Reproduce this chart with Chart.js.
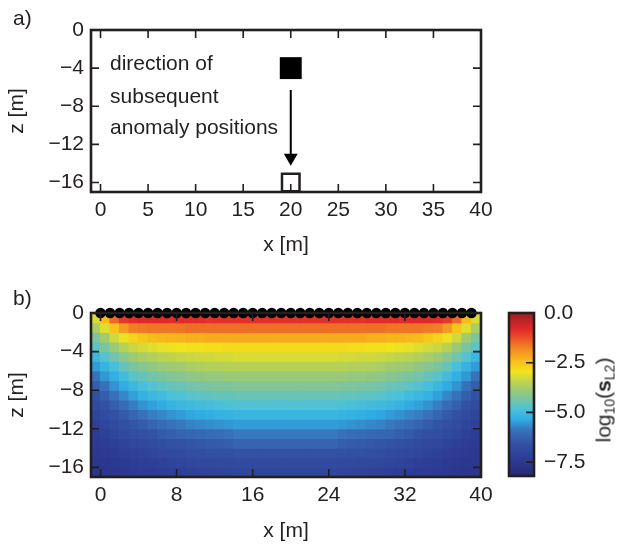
<!DOCTYPE html>
<html><head><meta charset="utf-8">
<script src="https://cdn.jsdelivr.net/npm/chart.js@4.4.1/dist/chart.umd.min.js"></script>
<style>
html,body{margin:0;padding:0;background:#fff;}
body{width:621px;height:546px;position:relative;overflow:hidden;font-family:'Liberation Sans',Arial,sans-serif;color:#231f20;}
canvas{position:absolute;}
.lbl{position:absolute;font-size:21px;line-height:1;}
#cbl{position:absolute;left:603px;top:400px;transform:translate(-50%,-50%) rotate(-90deg);white-space:nowrap;font-size:21px;line-height:1;font-weight:normal;color:#231f20;}
#cbl sub{font-size:14px;line-height:0;vertical-align:-4px;font-weight:normal;}
#cbl b{font-weight:bold;}
</style></head><body>
<canvas id="ca" width="621" height="270" style="left:0;top:0"></canvas>
<canvas id="cb" width="500" height="276" style="left:0;top:270px"></canvas>
<canvas id="cc" width="121" height="276" style="left:500px;top:270px"></canvas>
<div class="lbl" style="left:13px;top:7px">a)</div>
<div class="lbl" style="left:13px;top:287px">b)</div>
<div id="cbl">log<sub>10</sub>(<b>s</b><sub>L2</sub>)</div>
<script>
// ---------- data ----------
const xTicksA = [0, 5, 10, 15, 20, 25, 30, 35, 40];
const xTicksB = [0, 8, 16, 24, 32, 40];
const zTicks = [0, -4, -8, -12, -16];
const cbarTicks = [0, -2.5, -5, -7.5];
const cbarRange = [-8.2, 0];

const anomalyX = [20, 20];
const anomalyZ = [-4, -16];
const arrowX = [20, 20];
const arrowZ = [-6.3, -13.4];
const noteLines = ['direction of', 'subsequent', 'anomaly positions'];
const noteX = 1;
const noteZ = [-3.6, -7.0, -10.3];

const electrodeX = [0,1,2,3,4,5,6,7,8,9,10,11,12,13,14,15,16,17,18,19,20,21,22,23,24,25,26,27,28,29,30,31,32,33,34,35,36,37,38,39];

// heatmap cells: column centres (x, m) and row edges (z, m)
const cellX = [-0.5,0.5,1.5,2.5,3.5,4.5,5.5,6.5,7.5,8.5,9.5,10.5,11.5,12.5,13.5,14.5,15.5,16.5,17.5,18.5,19.5,20.5,21.5,22.5,23.5,24.5,25.5,26.5,27.5,28.5,29.5,30.5,31.5,32.5,33.5,34.5,35.5,36.5,37.5,38.5,39.5];
const cellZEdges = [0,-1,-2,-3,-4,-5,-6,-7,-8,-9,-10,-11,-12,-13,-14,-15,-16,-17];

// log10(s_L2) per row (top to bottom), per column (left to right)
const logS_r00 = [-3.2,-2.4,-1.5,-1.0,-0.85,-0.8,-0.8,-0.8,-0.85,-0.85, -0.85,-0.85,-0.9,-0.9,-0.9,-0.9,-0.9,-0.9,-0.9,-0.9, -0.9, -0.9,-0.9,-0.9,-0.9,-0.9,-0.9,-0.9,-0.9,-0.85,-0.85, -0.85,-0.85,-0.8,-0.8,-0.8,-0.85,-1.0,-1.5,-2.4,-3.2];
const logS_r01 = [-3.7,-3.15,-2.5,-2.0,-1.7,-1.65,-1.6,-1.6,-1.6,-1.6, -1.55,-1.55,-1.55,-1.55,-1.55,-1.55,-1.55,-1.55,-1.55,-1.55, -1.55, -1.55,-1.55,-1.55,-1.55,-1.55,-1.55,-1.55,-1.55,-1.55,-1.55, -1.6,-1.6,-1.6,-1.6,-1.65,-1.7,-2.0,-2.5,-3.15,-3.7];
const logS_r02 = [-4.25,-3.8,-3.3,-3.0,-2.7,-2.55,-2.4,-2.35,-2.3,-2.3, -2.25,-2.25,-2.2,-2.2,-2.2,-2.2,-2.2,-2.2,-2.2,-2.2, -2.2, -2.2,-2.2,-2.2,-2.2,-2.2,-2.2,-2.2,-2.2,-2.25,-2.25, -2.3,-2.3,-2.35,-2.4,-2.55,-2.7,-3.0,-3.3,-3.8,-4.25];
const logS_r03 = [-4.65,-4.3,-3.9,-3.55,-3.35,-3.25,-3.15,-3.05,-3.0,-2.95, -2.9,-2.9,-2.85,-2.85,-2.8,-2.8,-2.8,-2.8,-2.8,-2.8, -2.8, -2.8,-2.8,-2.8,-2.8,-2.8,-2.8,-2.85,-2.85,-2.9,-2.9, -2.95,-3.0,-3.05,-3.15,-3.25,-3.35,-3.55,-3.9,-4.3,-4.65];
const logS_r04 = [-5.1,-4.75,-4.4,-4.1,-3.85,-3.7,-3.6,-3.5,-3.45,-3.4, -3.35,-3.3,-3.3,-3.25,-3.25,-3.2,-3.2,-3.2,-3.2,-3.2, -3.2, -3.2,-3.2,-3.2,-3.2,-3.2,-3.25,-3.25,-3.3,-3.3,-3.35, -3.4,-3.45,-3.5,-3.6,-3.7,-3.85,-4.1,-4.4,-4.75,-5.1];
const logS_r05 = [-5.5,-5.2,-4.9,-4.55,-4.3,-4.15,-4.0,-3.9,-3.85,-3.8, -3.7,-3.65,-3.6,-3.6,-3.55,-3.55,-3.55,-3.55,-3.55,-3.55, -3.55, -3.55,-3.55,-3.55,-3.55,-3.55,-3.55,-3.6,-3.6,-3.65,-3.7, -3.8,-3.85,-3.9,-4.0,-4.15,-4.3,-4.55,-4.9,-5.2,-5.5];
const logS_r06 = [-5.9,-5.55,-5.3,-5.0,-4.7,-4.55,-4.4,-4.3,-4.2,-4.15, -4.05,-4.0,-3.95,-3.95,-3.9,-3.9,-3.9,-3.9,-3.9,-3.9, -3.9, -3.9,-3.9,-3.9,-3.9,-3.9,-3.9,-3.95,-3.95,-4.0,-4.05, -4.15,-4.2,-4.3,-4.4,-4.55,-4.7,-5.0,-5.3,-5.55,-5.9];
const logS_r07 = [-6.3,-5.95,-5.6,-5.35,-5.1,-4.9,-4.75,-4.65,-4.55,-4.5, -4.4,-4.35,-4.3,-4.25,-4.25,-4.2,-4.2,-4.2,-4.2,-4.2, -4.2, -4.2,-4.2,-4.2,-4.2,-4.2,-4.25,-4.25,-4.3,-4.35,-4.4, -4.5,-4.55,-4.65,-4.75,-4.9,-5.1,-5.35,-5.6,-5.95,-6.3];
const logS_r08 = [-6.6,-6.3,-5.95,-5.7,-5.45,-5.25,-5.1,-5.0,-4.85,-4.8, -4.7,-4.65,-4.6,-4.55,-4.55,-4.5,-4.5,-4.5,-4.5,-4.5, -4.5, -4.5,-4.5,-4.5,-4.5,-4.5,-4.55,-4.55,-4.6,-4.65,-4.7, -4.8,-4.85,-5.0,-5.1,-5.25,-5.45,-5.7,-5.95,-6.3,-6.6];
const logS_r09 = [-6.8,-6.6,-6.3,-6.05,-5.8,-5.6,-5.45,-5.35,-5.2,-5.1, -5.05,-5.0,-4.95,-4.9,-4.85,-4.8,-4.8,-4.8,-4.8,-4.8, -4.8, -4.8,-4.8,-4.8,-4.8,-4.8,-4.85,-4.9,-4.95,-5.0,-5.05, -5.1,-5.2,-5.35,-5.45,-5.6,-5.8,-6.05,-6.3,-6.6,-6.8];
const logS_r10 = [-7.0,-6.8,-6.6,-6.4,-6.15,-5.95,-5.8,-5.7,-5.6,-5.5, -5.4,-5.35,-5.3,-5.25,-5.2,-5.15,-5.15,-5.15,-5.15,-5.15, -5.15, -5.15,-5.15,-5.15,-5.15,-5.15,-5.2,-5.25,-5.3,-5.35,-5.4, -5.5,-5.6,-5.7,-5.8,-5.95,-6.15,-6.4,-6.6,-6.8,-7.0];
const logS_r11 = [-7.2,-7.0,-6.8,-6.65,-6.5,-6.35,-6.2,-6.05,-5.95,-5.85, -5.75,-5.7,-5.65,-5.6,-5.55,-5.5,-5.5,-5.5,-5.5,-5.5, -5.5, -5.5,-5.5,-5.5,-5.5,-5.5,-5.55,-5.6,-5.65,-5.7,-5.75, -5.85,-5.95,-6.05,-6.2,-6.35,-6.5,-6.65,-6.8,-7.0,-7.2];
const logS_r12 = [-7.35,-7.2,-7.0,-6.85,-6.75,-6.65,-6.55,-6.4,-6.3,-6.2, -6.15,-6.1,-6.05,-6.0,-5.95,-5.85,-5.85,-5.85,-5.85,-5.85, -5.85, -5.85,-5.85,-5.85,-5.85,-5.85,-5.95,-6.0,-6.05,-6.1,-6.15, -6.2,-6.3,-6.4,-6.55,-6.65,-6.75,-6.85,-7.0,-7.2,-7.35];
const logS_r13 = [-7.4,-7.35,-7.25,-7.1,-6.95,-6.9,-6.8,-6.7,-6.6,-6.55, -6.5,-6.45,-6.4,-6.35,-6.3,-6.2,-6.2,-6.2,-6.2,-6.2, -6.2, -6.2,-6.2,-6.2,-6.2,-6.2,-6.3,-6.35,-6.4,-6.45,-6.5, -6.55,-6.6,-6.7,-6.8,-6.9,-6.95,-7.1,-7.25,-7.35,-7.4];
const logS_r14 = [-7.5,-7.45,-7.4,-7.3,-7.2,-7.1,-7.0,-6.9,-6.85,-6.8, -6.75,-6.7,-6.65,-6.65,-6.6,-6.55,-6.55,-6.55,-6.55,-6.55, -6.55, -6.55,-6.55,-6.55,-6.55,-6.55,-6.6,-6.65,-6.65,-6.7,-6.75, -6.8,-6.85,-6.9,-7.0,-7.1,-7.2,-7.3,-7.4,-7.45,-7.5];
const logS_r15 = [-7.55,-7.55,-7.5,-7.45,-7.35,-7.3,-7.25,-7.15,-7.05,-7.0, -6.95,-6.9,-6.9,-6.85,-6.85,-6.8,-6.8,-6.8,-6.8,-6.8, -6.8, -6.8,-6.8,-6.8,-6.8,-6.8,-6.85,-6.85,-6.9,-6.9,-6.95, -7.0,-7.05,-7.15,-7.25,-7.3,-7.35,-7.45,-7.5,-7.55,-7.55];
const logS_r16 = [-7.6,-7.6,-7.55,-7.5,-7.45,-7.4,-7.4,-7.35,-7.3,-7.25, -7.2,-7.15,-7.1,-7.1,-7.05,-7.0,-7.0,-7.0,-7.0,-7.0, -7.0, -7.0,-7.0,-7.0,-7.0,-7.0,-7.05,-7.1,-7.1,-7.15,-7.2, -7.25,-7.3,-7.35,-7.4,-7.4,-7.45,-7.5,-7.55,-7.6,-7.6];
const logSRows = [logS_r00,logS_r01,logS_r02,logS_r03,logS_r04,logS_r05,logS_r06,logS_r07,logS_r08,logS_r09,logS_r10,logS_r11,logS_r12,logS_r13,logS_r14,logS_r15,logS_r16];

// ---------- style ----------
const INK = '#231f20';
const FONT = "'Liberation Sans', Arial, sans-serif";
const cmapStops = [
  [0.00,'#262a78'],[0.10,'#2d3b95'],[0.20,'#3352a4'],[0.28,'#3872bb'],[0.35,'#30aee4'],
  [0.41,'#4cc2da'],[0.47,'#78c4a4'],[0.52,'#97c87c'],[0.58,'#c0d44a'],[0.64,'#f2e41c'],
  [0.70,'#f8c11b'],[0.77,'#f39123'],[0.84,'#ec5627'],[0.90,'#e0292a'],[1.00,'#9c1f23']
];
function hexRgb(h){ return [parseInt(h.slice(1,3),16),parseInt(h.slice(3,5),16),parseInt(h.slice(5,7),16)]; }
function colorFor(v){
  let t = (v - cbarRange[0]) / (cbarRange[1] - cbarRange[0]);
  t = Math.max(0, Math.min(1, t));
  for (let i = 1; i < cmapStops.length; i++) {
    if (t <= cmapStops[i][0]) {
      const [t0,c0] = cmapStops[i-1], [t1,c1] = cmapStops[i];
      const f = (t - t0) / (t1 - t0);
      const a = hexRgb(c0), b = hexRgb(c1);
      return 'rgb(' + a.map((q,k) => Math.round(q + (b[k]-q)*f)).join(',') + ')';
    }
  }
  return cmapStops[cmapStops.length-1][1];
}

Chart.defaults.font.family = FONT;
Chart.defaults.font.size = 21;
Chart.defaults.color = INK;
Chart.defaults.animation = false;
Chart.defaults.events = [];
Chart.defaults.plugins.legend.display = false;
Chart.defaults.plugins.tooltip.enabled = false;

const fmtInt = v => (v < 0 ? '\u2212' : '') + Math.abs(v);
const fmtOne = v => (v < 0 ? '\u2212' : '') + Math.abs(v).toFixed(1);
const fixedTicks = list => s => { s.ticks = list.map(v => ({value: v})); };

const framePlugin = {
  id: 'frame',
  afterDatasetsDraw(chart, args, o) {
    const {ctx, chartArea: a, scales} = chart;
    ctx.save();
    ctx.strokeStyle = INK;
    ctx.lineWidth = 1.6;
    const L = 8;
    ctx.beginPath();
    (o.xSides || []).forEach(side => {
      scales.x.ticks.forEach(t => {
        const p = scales.x.getPixelForValue(t.value);
        const y0 = side === 'top' ? a.top : a.bottom;
        ctx.moveTo(p, y0); ctx.lineTo(p, y0 + (side === 'top' ? L : -L));
      });
    });
    (o.ySides || []).forEach(side => {
      scales.y.ticks.forEach(t => {
        const p = scales.y.getPixelForValue(t.value);
        const x0 = side === 'left' ? a.left : a.right;
        ctx.moveTo(x0, p); ctx.lineTo(x0 + (side === 'left' ? L : -L), p);
      });
    });
    ctx.stroke();
    ctx.lineWidth = 2.6;
    ctx.strokeRect(a.left, a.top, a.right - a.left, a.bottom - a.top);
    ctx.restore();
  }
};
const notePlugin = {
  id: 'note',
  afterDatasetsDraw(chart, args, o) {
    if (!o.lines) return;
    const {ctx, scales} = chart;
    ctx.save();
    ctx.fillStyle = INK;
    ctx.font = '21px ' + FONT;
    ctx.textAlign = 'left';
    ctx.textBaseline = 'middle';
    o.lines.forEach((s, i) => ctx.fillText(s, scales.x.getPixelForValue(o.x), scales.y.getPixelForValue(o.z[i])));
    ctx.restore();
  }
};

function axisX(ticks, h, titlePad) {
  return {
    type: 'linear', min: -1, max: 40, offset: false,
    afterBuildTicks: fixedTicks(ticks),
    afterFit: s => { s.height = h; },
    grid: {display: false, drawTicks: false}, border: {display: false},
    ticks: {padding: 6, callback: fmtInt, maxRotation: 0, autoSkip: false},
    title: {display: true, text: 'x [m]', padding: {top: 0, bottom: titlePad}}
  };
}
function axisZ() {
  return {
    type: 'linear', min: -17, max: 0,
    afterBuildTicks: fixedTicks(zTicks),
    afterFit: s => { s.width = 91; },
    grid: {display: false, drawTicks: false}, border: {display: false},
    ticks: {padding: 7, callback: fmtInt},
    title: {display: true, text: 'z [m]', padding: {top: 5, bottom: 0}}
  };
}

// ---------- panel a ----------
new Chart(document.getElementById('ca'), {
  type: 'scatter',
  data: {datasets: [
    {data: [{x: anomalyX[0], y: anomalyZ[0]}], pointStyle: 'rect', pointRadius: 15.5,
     backgroundColor: '#000', borderColor: '#000', borderWidth: 0, clip: false},
    {data: [{x: anomalyX[1], y: anomalyZ[1]}], pointStyle: 'rect', pointRadius: 12.4,
     backgroundColor: 'rgba(0,0,0,0)', borderColor: INK, borderWidth: 2.5, clip: false},
    {data: arrowX.map((x, i) => ({x, y: arrowZ[i]})), showLine: true, borderColor: '#000', borderWidth: 2,
     pointStyle: 'triangle', pointRadius: [0, 8], pointRotation: 180,
     pointBackgroundColor: '#000', pointBorderWidth: 0, clip: false}
  ]},
  options: {
    responsive: false,
    layout: {padding: {left: 0, top: 30, right: 140, bottom: 0}},
    scales: {x: axisX(xTicksA, 78, 12), y: axisZ()},
    plugins: {
      frame: {xSides: ['top', 'bottom'], ySides: ['left', 'right']},
      note: {lines: noteLines, x: noteX, z: noteZ}
    }
  },
  plugins: [framePlugin, notePlugin]
});

// ---------- panel b ----------
const cellSets = logSRows.map((row, r) => ({
  type: 'bar',
  data: row.map((v, c) => ({x: cellX[c], y: [cellZEdges[r], cellZEdges[r + 1]]})),
  backgroundColor: row.map(colorFor),
  borderWidth: 0, grouped: false, barPercentage: 1, categoryPercentage: 1,
  inflateAmount: 0.6, order: 2
}));
new Chart(document.getElementById('cb'), {
  type: 'bar',
  data: {datasets: [
    {type: 'scatter', data: electrodeX.map(x => ({x, y: 0})), pointRadius: 5.3,
     backgroundColor: '#000', borderWidth: 0, showLine: false, clip: false, order: 0}
  ].concat(cellSets)},
  options: {
    responsive: false,
    layout: {padding: {left: 0, top: 43, right: 19, bottom: 0}},
    scales: {x: axisX(xTicksB, 69, 2), y: axisZ()},
    plugins: {frame: {xSides: ['top', 'bottom'], ySides: ['left', 'right']}}
  },
  plugins: [framePlugin]
});

// ---------- colorbar ----------
new Chart(document.getElementById('cc'), {
  type: 'bar',
  data: {labels: [''], datasets: [{
    data: [cbarRange],
    backgroundColor: c => {
      const ch = c.chart;
      if (!ch.chartArea) return '#000';
      const ys = ch.scales.y;
      const g = ch.ctx.createLinearGradient(0, ys.getPixelForValue(cbarRange[0]), 0, ys.getPixelForValue(cbarRange[1]));
      cmapStops.forEach(([t, col]) => g.addColorStop(t, col));
      return g;
    },
    borderWidth: 0, barPercentage: 1, categoryPercentage: 1
  }]},
  options: {
    responsive: false,
    layout: {padding: {left: 9, top: 43, right: 0, bottom: 70}},
    scales: {
      x: {display: false},
      y: {position: 'right', min: cbarRange[0], max: cbarRange[1],
          afterBuildTicks: fixedTicks(cbarTicks),
          afterFit: s => { s.width = 87; },
          grid: {display: false, drawTicks: false}, border: {display: false},
          ticks: {padding: 10, callback: fmtOne}}
    },
    plugins: {frame: {xSides: [], ySides: ['right']}}
  },
  plugins: [framePlugin]
});
</script>
</body></html>
